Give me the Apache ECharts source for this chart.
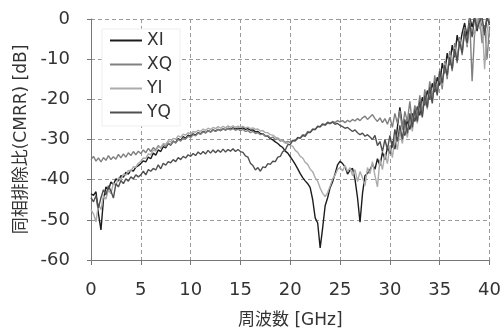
<!DOCTYPE html>
<html>
<head>
<meta charset="utf-8">
<script src="https://cdn.jsdelivr.net/npm/echarts@6/dist/echarts.min.js"></script>
<style>
  html, body { margin: 0; padding: 0; background: #fff; }
  #chart { width: 504px; height: 334px; }
</style>
</head>
<body>
<div id="chart"></div>
<script>
// measured every 0.25 GHz, 0 .. 40 GHz
const freqStep = 0.25
const seriesNames = ['XI', 'XQ', 'YI', 'YQ']
const xTicks = [0, 5, 10, 15, 20, 25, 30, 35, 40]
const yTicks = [-60, -50, -40, -30, -20, -10, 0]

const xi = [
  -43.5, -43.9, -43.0, -48.5, -52.5, -45.0, -41.8, -42.6, -40.6, -41.2, -39.8, -40.3, -39.0, -39.4, -38.2, -38.6, -37.6, -37.9, -36.9, -36.5,
  -36.0, -35.3, -35.6, -34.4, -34.8, -33.4, -33.9, -32.6, -33.0, -31.8, -32.1, -31.0, -31.4, -30.4, -30.8, -29.8, -30.2, -29.3, -29.7, -28.9,
  -29.2, -28.6, -28.9, -28.3, -28.6, -28.0, -28.3, -27.8, -28.1, -27.6, -27.9, -27.5, -27.8, -27.3, -27.6, -27.2, -27.5, -27.1, -27.4, -27.2,
  -27.3, -27.1, -27.5, -27.3, -27.7, -27.6, -28.1, -28.0, -28.5, -28.6, -29.1, -29.2, -29.8, -30.1, -30.6, -31.0, -31.6, -32.0, -32.9, -33.4,
  -34.3, -35.2, -36.2, -37.3, -38.5, -39.5, -40.3, -41.0, -42.0, -45.0, -49.5, -50.8, -57.0, -52.0, -46.5, -44.5, -42.0, -40.5, -38.5, -36.3,
  -35.4, -36.0, -36.8, -38.6, -37.6, -37.2, -40.0, -44.5, -50.6, -43.4, -39.0, -38.4, -37.6, -36.2, -37.4, -34.8, -36.5, -33.2, -35.0, -32.0,
  -33.5, -30.5, -32.4, -27.0, -22.0, -26.5, -29.0, -25.0, -27.5, -23.5, -25.5, -21.8, -24.0, -19.5, -21.5, -17.8, -20.0, -16.0, -18.2, -14.5,
  -16.5, -11.0, -13.5, -8.5, -11.5, -6.5, -9.5, -4.0, -7.0, -3.5, -1.0, -4.5, 0.5, -2.0, 0.5, -3.0, 0.5, -1.5, -4.0, 0.5,
  -1.0
]
const xq = [
  -35.0, -34.2, -35.4, -34.6, -35.6, -34.5, -35.2, -34.0, -35.0, -34.3, -34.9, -33.7, -34.6, -33.6, -34.4, -33.3, -34.0, -33.0, -33.8, -32.9,
  -33.5, -32.6, -33.3, -32.2, -33.0, -32.0, -32.6, -31.5, -32.2, -31.2, -31.8, -30.8, -31.3, -30.4, -30.9, -30.0, -30.4, -29.6, -29.9, -29.2,
  -29.5, -28.8, -29.1, -28.4, -28.7, -28.1, -28.4, -27.8, -28.2, -27.6, -28.0, -27.5, -27.8, -27.3, -27.7, -27.3, -27.6, -27.3, -27.7, -27.4,
  -27.8, -27.5, -28.0, -27.8, -28.3, -28.0, -28.5, -28.3, -28.8, -28.6, -29.2, -29.0, -29.6, -29.4, -30.0, -29.8, -30.4, -30.2, -30.7, -30.5,
  -30.7, -30.2, -30.3, -29.6, -29.6, -28.8, -28.9, -28.0, -28.1, -27.4, -27.5, -26.8, -26.9, -26.3, -26.5, -25.9, -26.1, -25.5, -25.8, -25.3,
  -25.6, -25.3, -25.8, -25.2, -25.6, -25.0, -25.4, -24.8, -25.3, -24.6, -24.2, -25.0, -24.4, -23.8, -24.8, -25.5, -24.6, -25.8, -24.8, -26.2,
  -24.5, -27.0, -23.5, -26.0, -22.8, -27.5, -23.0, -25.5, -20.5, -26.0, -21.5, -24.0, -19.0, -23.5, -17.5, -21.5, -15.5, -20.0, -14.0, -18.5,
  -12.5, -17.5, -10.5, -15.0, -8.0, -13.0, -6.0, -11.0, -4.5, -9.0, -2.0, -7.0, 0.5, -15.5, -3.5, -1.0, 0.5, -6.0, -1.5, -10.0,
  -2.0
]
const yi = [
  -47.5, -48.5, -50.5, -46.0, -47.5, -44.0, -44.8, -42.5, -43.5, -40.8, -41.5, -39.5, -40.0, -38.6, -38.9, -37.7, -37.9, -36.8, -36.9, -35.9,
  -35.4, -34.6, -34.7, -33.6, -33.8, -32.6, -32.9, -31.8, -32.0, -31.0, -31.2, -30.3, -30.6, -29.7, -29.9, -29.1, -29.4, -28.7, -28.9, -28.3,
  -28.6, -28.0, -28.2, -27.7, -28.0, -27.4, -27.7, -27.2, -27.5, -27.0, -27.3, -26.8, -27.2, -26.7, -27.1, -26.6, -27.0, -26.6, -27.0, -26.7,
  -27.0, -26.7, -27.1, -26.9, -27.3, -27.1, -27.5, -27.4, -27.9, -27.8, -28.3, -28.3, -28.8, -28.9, -29.4, -29.6, -30.1, -30.4, -30.9, -31.0,
  -31.4, -31.7, -32.7, -33.2, -34.2, -34.6, -35.7, -36.2, -37.4, -38.0, -39.5, -40.4, -42.1, -43.4, -44.2, -43.2, -41.6, -39.8, -38.9, -37.4,
  -37.0, -37.8, -36.5, -38.0, -37.0, -39.0, -37.5, -40.5, -38.0, -39.5, -41.5, -37.0, -38.5, -35.5, -39.0, -41.8, -35.0, -37.5, -33.5, -36.0,
  -31.5, -34.5, -29.5, -32.5, -28.0, -31.0, -26.5, -29.5, -24.5, -28.0, -22.5, -26.0, -21.0, -24.0, -19.0, -22.5, -17.5, -20.5, -15.5, -18.5,
  -13.5, -16.5, -11.0, -14.0, -9.0, -12.0, -7.0, -10.0, -5.0, -8.0, -3.0, -6.5, -1.5, -3.0, -4.0, 0.5, -2.5, 0.5, -12.5, -3.0,
  0.5
]
const yq = [
  -44.5, -45.5, -44.0, -47.0, -44.5, -42.5, -43.8, -41.5, -42.8, -44.6, -41.0, -41.8, -40.2, -41.0, -39.8, -40.4, -39.3, -39.8, -38.8, -39.3,
  -38.8, -37.9, -38.8, -37.5, -37.9, -37.2, -37.6, -36.3, -37.3, -35.9, -36.4, -35.5, -35.8, -35.0, -35.5, -34.5, -35.0, -34.2, -34.6, -33.8,
  -34.2, -33.5, -34.0, -33.1, -33.7, -33.0, -33.6, -32.7, -33.4, -32.6, -33.3, -32.6, -33.2, -32.4, -33.1, -32.5, -32.9, -32.3, -33.0, -32.5,
  -33.0, -33.2, -34.1, -34.4, -35.9, -36.5, -37.6, -37.0, -37.9, -36.8, -37.0, -36.0, -36.2, -35.4, -35.5, -34.4, -34.2, -33.0, -32.6, -31.3,
  -31.2, -30.3, -30.3, -29.5, -29.7, -29.0, -29.2, -28.3, -28.3, -27.5, -27.5, -26.7, -26.8, -26.1, -26.3, -25.7, -26.0, -25.7, -26.2, -26.0,
  -26.5, -26.8, -27.2, -27.0, -27.5, -28.0, -27.6, -28.3, -28.8, -28.4, -29.2, -28.8, -29.4, -30.0, -29.0, -31.5, -30.5, -33.0, -30.0, -32.5,
  -29.0, -32.0, -27.5, -30.5, -26.5, -30.0, -25.0, -28.5, -23.5, -27.0, -22.5, -25.5, -20.5, -24.5, -19.0, -22.0, -17.0, -21.0, -15.5, -19.0,
  -13.0, -16.0, -11.5, -14.0, -9.5, -12.5, -7.5, -10.5, -5.5, -8.5, -3.0, -6.0, -1.0, -4.5, 0.5, -2.5, -0.5, 0.5, -3.5, 0.5,
  -1.5
]

const seriesValues = [xi, xq, yi, yq]
const seriesColors = ['#1c1c1c', '#808080', '#ababab', '#4f4f4f']
const textFont = '"DejaVu Sans", "Noto Sans CJK JP", sans-serif'

const chart = echarts.init(document.getElementById('chart'))
const option = {
  animation: false,
  backgroundColor: '#fff',
  textStyle: { fontFamily: textFont },
  grid: { left: 91, right: 13, top: 19, bottom: 65 },
  legend: {
    data: seriesNames,
    orient: 'vertical',
    left: 102,
    top: 29,
    padding: [3, 8, 5, 8],
    icon: 'rect',
    itemWidth: 32,
    itemHeight: 2,
    itemGap: 7,
    backgroundColor: '#fff',
    borderColor: '#eeeeee',
    borderWidth: 1,
    textStyle: { fontSize: 17, color: '#333', fontFamily: textFont }
  },
  xAxis: {
    type: 'value',
    min: xTicks[0],
    max: xTicks[xTicks.length - 1],
    interval: 5,
    name: '周波数 [GHz]',
    nameLocation: 'middle',
    nameGap: 52,
    nameTextStyle: { fontSize: 17, color: '#333', fontFamily: textFont },
    axisLine: { show: true, onZero: false, lineStyle: { color: '#777', width: 1 } },
    axisTick: { show: true, length: 5, lineStyle: { color: '#777' } },
    axisLabel: { fontSize: 18, color: '#333', margin: 21 },
    splitLine: { show: true, lineStyle: { color: '#9a9a9a', type: [4, 3], width: 1 } }
  },
  yAxis: {
    type: 'value',
    min: yTicks[0],
    max: yTicks[yTicks.length - 1],
    interval: 10,
    name: '同相排除比(CMRR) [dB]',
    nameLocation: 'middle',
    nameGap: 60,
    nameTextStyle: { fontSize: 17, color: '#333', fontFamily: textFont },
    axisLine: { show: true, lineStyle: { color: '#777', width: 1 } },
    axisTick: { show: true, length: 4, lineStyle: { color: '#777' } },
    axisLabel: { fontSize: 18, color: '#333', margin: 21 },
    splitLine: { show: true, lineStyle: { color: '#9a9a9a', type: [4, 3], width: 1 } }
  },
  series: seriesNames.map((name, k) => ({
    name: name,
    type: 'line',
    symbol: 'none',
    showSymbol: false,
    clip: true,
    color: seriesColors[k],
    lineStyle: { color: seriesColors[k], width: 1.4 },
    data: seriesValues[k].map((v, i) => [i * freqStep, v])
  }))
}
chart.setOption(option)
</script>
</body>
</html>
